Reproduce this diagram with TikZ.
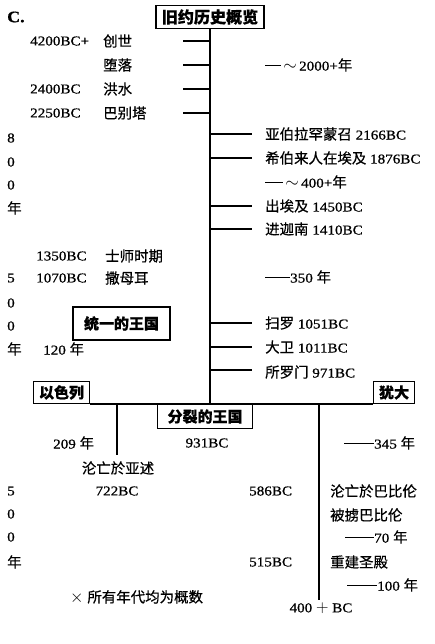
\documentclass[tikz,border=0pt]{standalone}
\usepackage{fontspec}
\setmainfont[FakeStretch=1.12, FakeBold=0.8]{Liberation Serif}
\newfontfamily\cjk[Scale=1.07, FakeBold=0.6]{Noto Sans CJK SC}
\newcommand\zh[1]{{\cjk #1}}
\newcommand\dashbar[1]{\rule[0.3em]{#1}{1.1pt}}
\newcommand\bigsym[1]{{\fontsize{19}{19}\selectfont$#1$}}
\usetikzlibrary{positioning}

\begin{document}
\begin{tikzpicture}[
    x=1pt, y=-1pt,
    txt/.style={inner sep=0pt, anchor=west, font=\fontsize{13.5}{16}\selectfont},
    ctxt/.style={txt, anchor=center},
    kbox/.style={rectangle, draw=black, line width=1.1pt, inner sep=0pt, font=\fontsize{14}{16}\selectfont\bfseries\cjk},
    tickline/.style={line width=1.1pt},
    spine/.style={line width=1.2pt}
]
\useasboundingbox (0,0) rectangle (434,644);

% Heading
\node[txt, font=\fontsize{16}{18}\selectfont\bfseries] (sec) at (7,17) {C.};
\node[kbox, minimum width=108, minimum height=23, font=\fontsize{15}{17}\selectfont\bfseries\cjk] (title) at (210,17) {旧约历史概览};

% Main time line
\coordinate (fork) at (210,404);
\draw[spine] (title.south -| fork) -- (fork);

\foreach \y [count=\i] in {41,65,89,113} {
    \coordinate (lt\i) at (183,\y);
    \draw[tickline] (lt\i) -- (lt\i -| fork);
}
\foreach \y [count=\i] in {134,158,206,229,323,347,370} {
    \coordinate (rt\i) at (252,\y);
    \draw[tickline] (rt\i -| fork) -- (rt\i);
}

% Left events
\node[txt] (y4200) at (30,41) {4200BC+};
\node[txt] (creation) at (103,41) {\zh{创世}};
\node[txt] (fall) at (103,65) {\zh{堕落}};
\node[txt] (y2400) at (30,89) {2400BC};
\node[txt] (flood) at (103,89) {\zh{洪水}};
\node[txt] (y2250) at (30,113) {2250BC};
\node[txt] (babel) at (103,113) {\zh{巴别塔}};
\node[txt] (y1350) at (36,256) {1350BC};
\node[txt] (judges) at (105,256) {\zh{士师时期}};
\node[txt] (y1070) at (36,278) {1070BC};
\node[txt] (samuel) at (105,278) {\zh{撒母耳}};
\node[txt] (span120) at (43,349) {120 \zh{年}};

% Vertical year counts
\foreach \c/\y [count=\i] in {8/138, 0/162, 0/185, \zh{年}/208} {
    \node[txt] (ca\i) at (7,\y) {\c};
}
\foreach \c/\y [count=\i] in {5/278, 0/303, 0/326, \zh{年}/349} {
    \node[txt] (cb\i) at (7,\y) {\c};
}
\foreach \c/\y [count=\i] in {5/491, 0/514, 0/537, \zh{年}/562} {
    \node[txt] (cc\i) at (7,\y) {\c};
}

% Right events
\node[txt] (span2000) at (265,65) {\dashbar{16pt}\,\bigsym{\sim}\,2000+\zh{年}};
\node[txt] (abraham) at (265,134) {\zh{亚伯拉罕蒙召}\ 2166BC};
\node[txt] (egypt) at (265,158) {\zh{希伯来人在埃及}\ 1876BC};
\node[txt] (span400) at (265,182) {\dashbar{18pt}\,\bigsym{\sim}\,400+\zh{年}};
\node[txt] (exodus) at (265,206) {\zh{出埃及} 1450BC};
\node[txt] (canaan) at (265,229) {\zh{进迦南} 1410BC};
\node[txt] (span350) at (265,277) {\dashbar{25pt}350 \zh{年}};
\node[txt] (saul) at (265,323) {\zh{扫罗}\ 1051BC};
\node[txt] (david) at (265,347) {\zh{大卫}\ 1011BC};
\node[txt] (solomon) at (265,372) {\zh{所罗门} 971BC};

% Kingdoms
\node[kbox, minimum width=97, minimum height=33] (united) at (121.5,323.5) {统一的王国};
\node[kbox, minimum width=56, minimum height=22, anchor=south west] (israel) at (33,404) {以色列};
\node[kbox, minimum width=41, minimum height=22, anchor=south west] (judah) at (373,404) {犹大};
\node[kbox, minimum width=95, minimum height=24, anchor=north west] (split) at (157,404) {分裂的王国};
\draw[spine] (israel.south east) -- (judah.south west);

\coordinate (israelEnd) at (117,455);
\coordinate (judahEnd) at (319,600);
\draw[spine] (israelEnd |- fork) -- (israelEnd);
\draw[spine] (judahEnd |- fork) -- (judahEnd);

% Divided kingdom
\node[txt] (span209) at (53,443) {209 \zh{年}};
\node[ctxt] (y931) at (207,443) {931BC};
\node[txt] (span345) at (344,443) {\dashbar{30pt}345 \zh{年}};
\node[ctxt] (assyria) at (118,468) {\zh{沦亡於亚述}};
\node[ctxt] (y722) at (117,491) {722BC};
\node[txt] (y586) at (249,491) {586BC};
\node[txt] (babylon) at (330,491) {\zh{沦亡於巴比伦}};
\node[txt] (exile) at (330,515) {\zh{被掳巴比伦}};
\node[txt] (span70) at (345,537) {\dashbar{29pt}70 \zh{年}};
\node[txt] (y515) at (249,562) {515BC};
\node[txt] (temple) at (330,562) {\zh{重建圣殿}};
\node[txt] (span100) at (347,585) {\dashbar{30pt}100 \zh{年}};
\node[ctxt] (y400) at (321,608) {400 \bigsym{+} BC};

% Note
\node[txt] (note) at (70,597) {\bigsym{\times}\ \zh{所有年代均为概数}};

\end{tikzpicture}
\end{document}
